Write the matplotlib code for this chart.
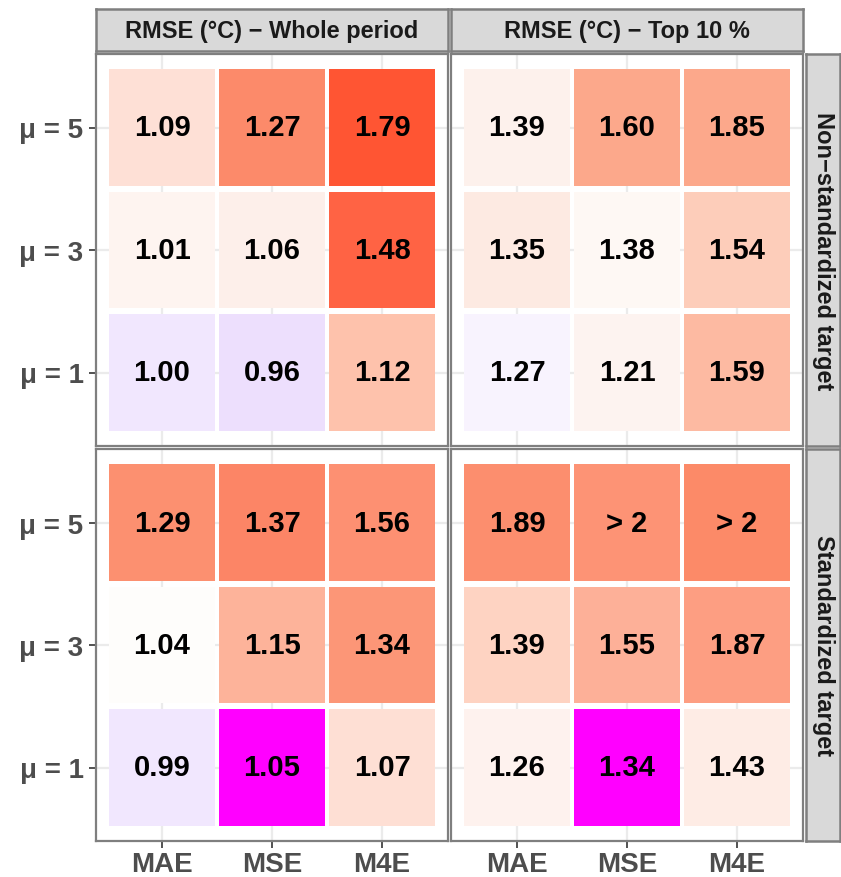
import numpy as np
import matplotlib.pyplot as plt

plt.rcParams['font.family'] = ['Liberation Sans', 'DejaVu Sans']

losses = ['MAE', 'MSE', 'M4E']
mu_labels = ['μ = 1', 'μ = 3', 'μ = 5']
periods = ['RMSE (°C) − Whole period', 'RMSE (°C) − Top 10 %']
targets = ['Non−standardized target', 'Standardized target']

# rows: mu = 1, 3, 5 ; columns: MAE, MSE, M4E  (inf -> shown as "> 2")
ns_whole = [[1.00, 0.96, 1.12], [1.01, 1.06, 1.48], [1.09, 1.27, 1.79]]
ns_top10 = [[1.27, 1.21, 1.59], [1.35, 1.38, 1.54], [1.39, 1.60, 1.85]]
st_whole = [[0.99, 1.05, 1.07], [1.04, 1.15, 1.34], [1.29, 1.37, 1.56]]
st_top10 = [[1.26, 1.34, 1.43], [1.39, 1.55, 1.87], [1.89, np.inf, np.inf]]

# tile fills (magenta = reference run)
ns_whole_fill = [['#F1E7FE', '#EDDFFD', '#FEC2AC'],
                 ['#FEF4F0', '#FDEFEA', '#FF6344'],
                 ['#FEE0D6', '#FC8A6A', '#FF5533']]
ns_top10_fill = [['#F8F3FE', '#FDF3F0', '#FDBAA2'],
                 ['#FDEAE2', '#FEF8F4', '#FDCDBA'],
                 ['#FDF1EC', '#FCA88B', '#FCA88B']]
st_whole_fill = [['#F1E7FE', '#FF00FF', '#FEDFD4'],
                 ['#FEFDFB', '#FDB39A', '#FC9677'],
                 ['#FC9070', '#FC8566', '#FD9072']]
st_top10_fill = [['#FEF2EE', '#FF00FF', '#FEECE5'],
                 ['#FED3C2', '#FDB098', '#FD9E82'],
                 ['#FC8E6E', '#FD9375', '#FC8A68']]

panels = [[(ns_whole, ns_whole_fill), (ns_top10, ns_top10_fill)],
          [(st_whole, st_whole_fill), (st_top10, st_top10_fill)]]

W, H = 841, 878
fig = plt.figure(figsize=(W / 100, H / 100), dpi=100)

def px_axes(x0, y0, x1, y1):
    return fig.add_axes([x0 / W, 1 - y1 / H, (x1 - x0) / W, (y1 - y0) / H])

border = '#7F7F7F'
xs = [(96, 448), (451, 803)]
ys = [(55, 447), (450, 842)]
tile = 0.955

for r in range(2):
    for c in range(2):
        vals, fills = panels[r][c]
        ax = px_axes(xs[c][0], ys[r][0], xs[c][1], ys[r][1])
        ax.set_xlim(0.4, 3.6)
        ax.set_ylim(0.4, 3.6)
        ax.set_axisbelow(True)
        ax.grid(True, color='#EBEBEB', lw=1.6)
        for i in range(3):
            for j in range(3):
                ax.bar(j + 1, tile, bottom=i + 1 - tile / 2, width=tile,
                       color=fills[i][j], lw=0)
                v = vals[i][j]
                txt = '> 2' if v > 2 else '%.2f' % v
                ax.text(j + 1, i + 1, txt, ha='center', va='center',
                        fontsize=21, fontweight='bold', color='black')
        ax.set_xticks([1, 2, 3])
        ax.set_yticks([1, 2, 3])
        ax.set_xticklabels(losses if r == 1 else [])
        ax.set_yticklabels(mu_labels if c == 0 else [])
        ax.tick_params(axis='x', bottom=(r == 1), length=5, width=1.2,
                       color='#333333', labelsize=20, labelcolor='#4D4D4D', pad=2)
        ax.tick_params(axis='y', left=(c == 0), length=5, width=1.2,
                       color='#333333', labelsize=20, labelcolor='#4D4D4D', pad=4)
        for lab in ax.get_xticklabels() + ax.get_yticklabels():
            lab.set_fontweight('bold')
        for s in ax.spines.values():
            s.set_color(border)
            s.set_linewidth(1.6)

# strips on top
for c in range(2):
    sax = px_axes(xs[c][0], 10, xs[c][1], 52)
    sax.set_facecolor('#D9D9D9')
    sax.set_xticks([])
    sax.set_yticks([])
    for s in sax.spines.values():
        s.set_color(border)
        s.set_linewidth(1.8)
    sax.text(0.5, 0.5, periods[c], ha='center', va='center', fontsize=17,
             fontweight='bold', color='#1A1A1A', transform=sax.transAxes)

# strips on the right
for r in range(2):
    sax = px_axes(806, ys[r][0], 840, ys[r][1])
    sax.set_facecolor('#D9D9D9')
    sax.set_xticks([])
    sax.set_yticks([])
    for s in sax.spines.values():
        s.set_color(border)
        s.set_linewidth(1.8)
    sax.text(0.5, 0.5, targets[r], ha='center', va='center', fontsize=17,
             fontweight='bold', color='#1A1A1A', rotation=-90,
             transform=sax.transAxes)

fig.savefig('out.png', dpi=100, facecolor='white')
